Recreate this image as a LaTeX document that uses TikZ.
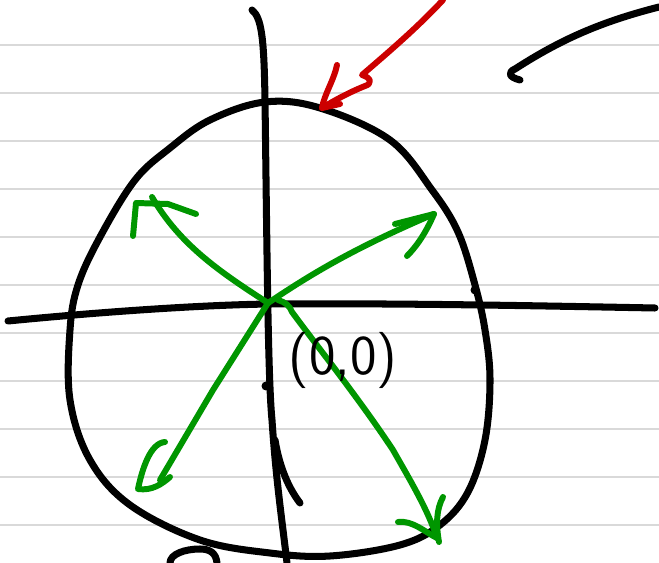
\documentclass[tikz,border=0pt]{standalone}
\usetikzlibrary{calc}
\usepackage{xcolor}
\definecolor{Ink}{HTML}{000000}
\definecolor{Rule}{HTML}{D9D9D9}
\definecolor{Pen}{HTML}{009600}
\definecolor{Marker}{HTML}{CC0000}
\tikzset{
 ruled/.style={draw=Rule, line width=1.3pt},
 inkline/.style={draw=Ink, line width=4pt, line cap=round, line join=round},
 greenpen/.style={draw=Pen, line width=3.4pt, line cap=round, line join=round},
 redpen/.style={draw=Marker, line width=3.4pt, line cap=round, line join=round},
 label/.style={font=\fontsize{32}{34}\selectfont\sffamily, inner sep=0pt}
}
\begin{document}
\begin{tikzpicture}[x=0.02cm,y=-0.02cm]
\useasboundingbox (0,0) rectangle (659,563);
\fill[white] (0,0) rectangle (659,563);
% paper lines
\foreach \k in {0,...,10}
 \draw[ruled] (0,45+48*\k) -- (659,45+48*\k);
% round shape
\draw[inkline] plot[smooth cycle,tension=0.6] coordinates {(265,102) (320,108) (390,140) (432,190) (458,232) (475,285) (485,330) (490,380) (485,440) (468,492) (440,525) (400,545) (330,556) (270,553) (200,540) (130,505) (90,460) (70,400) (70,330) (78,285) (100,237) (135,180) (170,148) (210,120)};
% axes
\draw[inkline] (252,10) .. controls (262,18) and (264,40) .. (265,100) .. controls (267,250) and (268,380) .. (272,420) .. controls (276,480) and (282,520) .. (287,563);
\draw[inkline] (275,440) .. controls (280,470) and (290,490) .. (300,503);
\draw[inkline] (8,321) .. controls (100,312) and (200,305) .. (270,304) .. controls (400,303) and (550,306) .. (655,308);
\fill[Ink] (266,386) circle (4.5);
\fill[Ink] (475,290) circle (4.5);
% origin and arrows
\coordinate (o) at (268,303);
\coordinate (ul) at (152,197);
\coordinate (ur) at (434,214);
\coordinate (ll) at (160,480);
\coordinate (lr) at (437,538);
\draw[greenpen] (o) .. controls (220,272) and (180,245) .. (ul);
\draw[greenpen] (133,236) -- (136,203) -- (168,204) -- (196,214);
\draw[greenpen] (o) .. controls (310,275) and (350,250) .. (ur);
\draw[greenpen] (395,224) -- (ur) .. controls (425,235) and (415,248) .. (407,256);
\draw[greenpen] (o) -- (213,390) -- (ll);
\draw[greenpen] (165,442) .. controls (150,443) and (142,470) .. (138,489) .. controls (152,491) and (162,484) .. (170,477);
\draw[greenpen] (278,300) .. controls (285,302) and (290,306) .. (292,312) .. controls (320,350) and (360,400) .. (393,450) .. controls (410,480) and (428,510) .. (lr);
\draw[greenpen] (398,522) .. controls (412,520) and (425,532) .. (lr);
\draw[greenpen] (443,497) .. controls (436,510) and (436,525) .. (439,542);
\node[label] (orig) at (343,360) {(0,0)};
% red pointer
\coordinate (tip) at (322,108);
\draw[redpen] (443,0) .. controls (415,30) and (385,55) .. (362,75) .. controls (372,78) and (372,84) .. (365,86) .. controls (350,92) and (335,100) .. (tip);
\draw[redpen] (337,65) .. controls (334,80) and (324,95) .. (tip) -- (340,104);
% stray strokes
\draw[inkline] (520,80) .. controls (508,77) and (508,72) .. (515,69) .. controls (560,40) and (600,22) .. (659,7);
\draw[inkline] (170,563) .. controls (170,554) and (185,549) .. (200,549) .. controls (210,549) and (216,553) .. (217,563);
\end{tikzpicture}
\end{document}
